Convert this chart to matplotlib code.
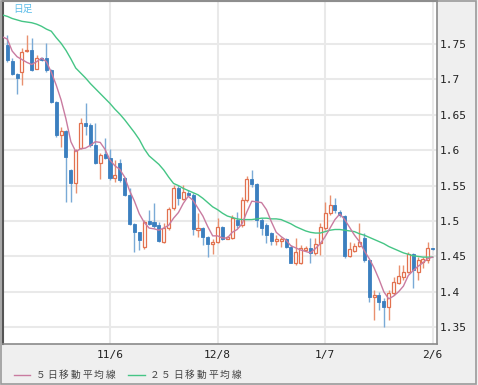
import matplotlib
matplotlib.use("Agg")
import matplotlib.pyplot as plt
from matplotlib.lines import Line2D
from matplotlib.patches import Rectangle
import numpy as np

# ---- data ----
opens = [1.749,1.726,1.708,1.710,1.740,1.742,1.715,1.730,1.730,1.713,
         1.668,1.621,1.627,1.572,1.554,1.603,1.638,1.635,1.607,1.582,
         1.594,1.589,1.561,1.582,1.561,1.537,1.496,1.484,1.463,1.500,
         1.499,1.494,1.471,1.490,1.518,1.547,1.531,1.540,1.537,1.487,
         1.490,1.477,1.467,1.470,1.492,1.475,1.476,1.501,1.494,1.530,
         1.559,1.552,1.501,1.494,1.483,1.472,1.472,1.475,1.463,1.441,
         1.441,1.459,1.462,1.455,1.469,1.490,1.511,1.523,1.513,1.507,
         1.450,1.458,1.465,1.476,1.445,1.393,1.396,1.387,1.378,1.398,
         1.412,1.421,1.428,1.453,1.428,1.442,1.445,1.462]
highs = [1.763,1.730,1.709,1.744,1.763,1.758,1.734,1.732,1.751,1.714,
         1.669,1.633,1.628,1.573,1.601,1.645,1.667,1.638,1.638,1.596,
         1.617,1.602,1.586,1.588,1.562,1.547,1.497,1.485,1.501,1.515,
         1.525,1.498,1.497,1.520,1.551,1.551,1.551,1.544,1.540,1.511,
         1.491,1.479,1.474,1.504,1.493,1.479,1.508,1.513,1.534,1.563,
         1.572,1.554,1.504,1.497,1.484,1.480,1.477,1.476,1.466,1.476,
         1.466,1.464,1.476,1.476,1.497,1.527,1.537,1.533,1.516,1.508,
         1.470,1.469,1.497,1.483,1.446,1.403,1.400,1.391,1.403,1.421,
         1.438,1.438,1.456,1.455,1.449,1.449,1.470,1.462]
lows = [1.725,1.706,1.679,1.692,1.739,1.712,1.714,1.726,1.711,1.667,
        1.619,1.604,1.527,1.527,1.540,1.602,1.621,1.605,1.581,1.559,
        1.588,1.558,1.555,1.555,1.536,1.494,1.456,1.459,1.460,1.494,
        1.490,1.470,1.469,1.487,1.515,1.523,1.530,1.536,1.480,1.477,
        1.466,1.449,1.453,1.469,1.473,1.474,1.475,1.490,1.491,1.527,
        1.548,1.491,1.480,1.469,1.466,1.466,1.463,1.462,1.440,1.438,
        1.439,1.457,1.441,1.452,1.452,1.487,1.508,1.511,1.506,1.448,
        1.449,1.456,1.463,1.442,1.386,1.360,1.374,1.350,1.360,1.396,
        1.411,1.417,1.427,1.405,1.417,1.434,1.441,1.459]
closes = [1.727,1.708,1.702,1.739,1.742,1.713,1.730,1.727,1.713,1.668,
          1.621,1.627,1.590,1.554,1.600,1.638,1.634,1.607,1.582,1.593,
          1.589,1.561,1.565,1.558,1.537,1.496,1.484,1.473,1.499,1.496,
          1.493,1.472,1.490,1.517,1.547,1.532,1.541,1.537,1.489,1.490,
          1.477,1.467,1.470,1.492,1.475,1.477,1.504,1.494,1.530,1.559,
          1.552,1.501,1.490,1.480,1.472,1.475,1.475,1.463,1.441,1.456,
          1.462,1.462,1.455,1.468,1.492,1.511,1.523,1.516,1.508,1.450,
          1.460,1.465,1.470,1.445,1.393,1.396,1.386,1.378,1.398,1.414,
          1.422,1.428,1.453,1.431,1.445,1.446,1.462,1.460]

# moving averages, starting one session before the first visible candle
ma5 = [1.760,1.757,1.740,1.732,1.728,1.724,1.721,1.725,1.730,1.725,1.710,
       1.692,1.671,1.644,1.612,1.598,1.602,1.603,1.607,1.612,1.611,
       1.601,1.586,1.578,1.573,1.562,1.543,1.528,1.510,1.498,1.490,
       1.489,1.487,1.490,1.494,1.504,1.512,1.525,1.535,1.529,1.518,
       1.507,1.492,1.479,1.479,1.476,1.476,1.484,1.488,1.496,1.513,
       1.528,1.527,1.526,1.516,1.499,1.484,1.478,1.473,1.465,1.462,
       1.459,1.457,1.455,1.461,1.468,1.478,1.490,1.502,1.510,1.502,
       1.491,1.480,1.471,1.458,1.447,1.434,1.418,1.400,1.390,1.394,
       1.400,1.408,1.423,1.430,1.436,1.441,1.447,1.449]
ma25 = [1.791,1.789,1.786,1.784,1.782,1.781,1.780,1.778,1.775,1.771,1.768,
        1.759,1.751,1.741,1.729,1.716,1.709,1.702,1.694,1.687,1.680,
        1.673,1.666,1.658,1.651,1.643,1.634,1.625,1.615,1.602,1.592,
        1.586,1.580,1.572,1.562,1.553,1.550,1.546,1.543,1.540,1.537,
        1.532,1.526,1.520,1.516,1.511,1.507,1.505,1.503,1.502,1.502,
        1.502,1.503,1.504,1.504,1.503,1.503,1.502,1.499,1.496,1.492,
        1.489,1.486,1.484,1.483,1.483,1.485,1.487,1.488,1.488,1.487,
        1.486,1.485,1.482,1.480,1.477,1.474,1.471,1.468,1.464,1.461,
        1.458,1.455,1.453,1.451,1.450,1.449,1.449,1.449]

tick_pos = [21, 43, 65, 87]
tick_labels = ["11/6", "12/8", "1/7", "2/6"]
y_ticks = [1.35, 1.4, 1.45, 1.5, 1.55, 1.6, 1.65, 1.7, 1.75]
y_tick_labels = ["1.35", "1.4", "1.45", "1.5", "1.55", "1.6", "1.65", "1.7", "1.75"]
legend_labels = ["５日移動平均線", "２５日移動平均線"]
period_label = "日足"

# ---- styling ----
UP = "#e2714f"
UP_WICK = "#e9906f"
DN = "#3b7fbf"
DN_WICK = "#7aaad6"
C_MA5 = "#c97ba0"
C_MA25 = "#45c585"
GRID = "#e9e9e9"

W, H = 478, 385
fig = plt.figure(figsize=(W / 100, H / 100), dpi=100, facecolor="#efefef")
ax = fig.add_axes([2.5 / W, 1 - 343.5 / H, (436.7 - 2.5) / W, (343.5 - 1) / H])
ax.set_facecolor("white")

o = np.array(opens); h = np.array(highs); l = np.array(lows); c = np.array(closes)
x = np.arange(len(o))
up = c >= o

ax.vlines(x[up], l[up], h[up], color=UP_WICK, lw=1, zorder=3)
ax.vlines(x[~up], l[~up], h[~up], color=DN_WICK, lw=1, zorder=3)

bw = 0.62
bottoms = np.minimum(o, c)
heights = np.maximum(np.abs(c - o), 0.0015)
ax.bar(x[up], heights[up], bottom=bottoms[up], width=bw, facecolor="white",
       edgecolor=UP, linewidth=0.9, zorder=4)
ax.bar(x[~up], heights[~up], bottom=bottoms[~up], width=bw, facecolor=DN,
       edgecolor=DN, linewidth=0.6, zorder=4)

xm = np.arange(-1, len(o))
ax.plot(xm, ma25, color=C_MA25, lw=1.0, zorder=5)
ax.plot(xm, ma5, color=C_MA5, lw=1.0, zorder=5)

ax.set_xlim(-0.98, 87.81)
ax.set_ylim(1.3270, 1.8107)

ax.set_yticks(y_ticks)
ax.set_yticklabels(y_tick_labels)
ax.set_xticks(tick_pos)
ax.set_xticklabels(tick_labels)
ax.yaxis.tick_right()
ax.tick_params(axis="both", length=0, colors="#222222", labelsize=8)
ax.tick_params(axis="y", pad=2)
ax.tick_params(axis="x", pad=5)
for lab in ax.get_xticklabels() + ax.get_yticklabels():
    lab.set_fontfamily("DejaVu Sans Mono")
ax.grid(True, color=GRID, lw=1.5, zorder=0)
ax.set_axisbelow(True)

for s in ["top", "left"]:
    ax.spines[s].set_color("#555555")
    ax.spines[s].set_linewidth(1.5)
for s in ["right", "bottom"]:
    ax.spines[s].set_color("#8a8a8a")
    ax.spines[s].set_linewidth(1.2)

# period label
fig.text(13 / W, 1 - 8.5 / H, period_label, color="#5cbde9", fontsize=7,
         family=["Noto Sans CJK JP", "DejaVu Sans"], va="center", ha="left")

# legend
ly = 1 - 375 / H
def legend_item(x0, x1, tx, color, label):
    fig.add_artist(Line2D([x0 / W, x1 / W], [ly, ly], color=color, lw=1,
                          transform=fig.transFigure))
    for k, ch in enumerate(label):
        fig.text((tx + 11.7 * k) / W, ly, ch, color="#444444", fontsize=7,
                 family=["Noto Sans CJK JP", "DejaVu Sans"], ha="center", va="center")

legend_item(14, 30, 40.5, C_MA5, legend_labels[0])
legend_item(128, 145, 154.5, C_MA25, legend_labels[1])

# outer frame
fig.add_artist(Rectangle((0.5 / W, 1.5 / H), (W - 2.5) / W, (H - 2) / H,
                         transform=fig.transFigure, fill=False,
                         edgecolor="#9a9a9a", lw=1.2))

fig.savefig("out.png", dpi=100, facecolor=fig.get_facecolor())
